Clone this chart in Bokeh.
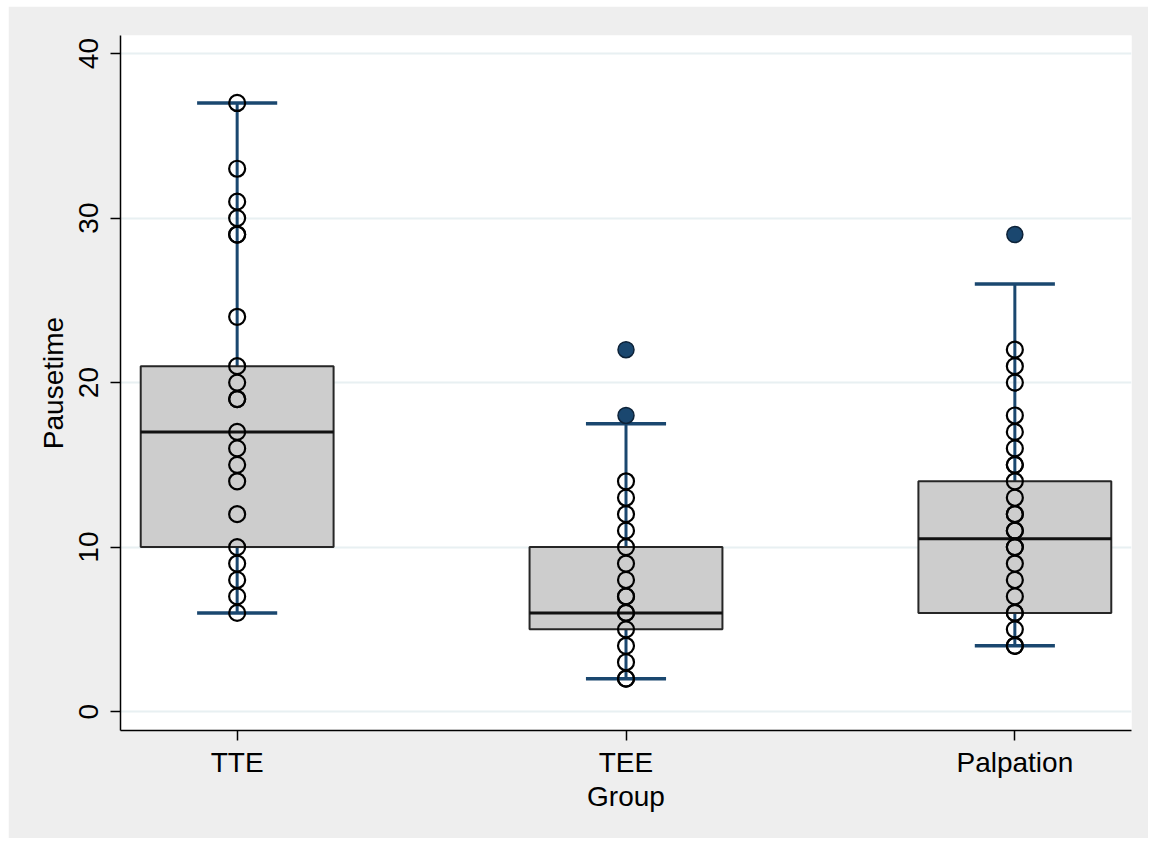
from bokeh.plotting import figure
from bokeh.models import ColumnDataSource, FixedTicker, Range1d, Spacer
from bokeh.layouts import column, row
from bokeh.embed import file_html
from bokeh.resources import INLINE

groups = ["TTE", "TEE", "Palpation"]
q1 = [10, 5, 6]
median = [17, 6, 10.5]
q3 = [21, 10, 14]
whisker_low = [6, 2, 4]
whisker_high = [37, 17.5, 26]

tte_values = [37, 33, 31, 30, 29, 29, 24, 21, 20, 19, 19, 17, 16, 15, 14, 12, 10, 9, 8, 7, 6]
tee_values = [14, 13, 12, 11, 10, 9, 8, 7, 7, 6, 6, 5, 4, 3, 2, 2]
palp_values = [22, 21, 20, 18, 17, 16, 15, 15, 14, 13, 12, 12, 11, 11, 10, 10, 9, 8, 7, 6, 6, 5, 4, 4]
outlier_group = ["TEE", "TEE", "Palpation"]
outlier_values = [22, 18, 29]

y_ticks = [0, 10, 20, 30, 40]

FONT = "Liberation Sans"
NAVY = "#1a476f"

pos = {g: i for i, g in enumerate(groups)}

p = figure(width=1140, height=832, output_backend="svg", toolbar_location=None,
           x_range=Range1d(-0.30, 2.30), y_range=Range1d(-1.15, 41.1),
           min_border_left=112, min_border_right=17, min_border_top=29, min_border_bottom=108)
p.background_fill_color = "white"
p.border_fill_color = "#eeeeee"
p.outline_line_color = None

box_src = ColumnDataSource(dict(
    x=[pos[g] for g in groups], q1=q1, q3=q3, med=median,
    lo=whisker_low, hi=whisker_high,
    cl=[pos[g] - 0.103 for g in groups], cr=[pos[g] + 0.103 for g in groups],
    bl=[pos[g] - 0.248 for g in groups], br=[pos[g] + 0.248 for g in groups],
))

# whiskers
p.segment(x0="x", y0="q3", x1="x", y1="hi", source=box_src, line_color=NAVY, line_width=3)
p.segment(x0="x", y0="lo", x1="x", y1="q1", source=box_src, line_color=NAVY, line_width=3)
p.segment(x0="cl", y0="hi", x1="cr", y1="hi", source=box_src, line_color=NAVY, line_width=3.5)
p.segment(x0="cl", y0="lo", x1="cr", y1="lo", source=box_src, line_color=NAVY, line_width=3.5)
# boxes
p.vbar(x="x", width=0.496, bottom="q1", top="q3", source=box_src,
       fill_color="#cdcdcd", line_color="#262626", line_width=2)
p.segment(x0="bl", y0="med", x1="br", y1="med", source=box_src, line_color="#111111", line_width=3)

# points
px, py = [], []
for g, vals in zip(groups, [tte_values, tee_values, palp_values]):
    px += [pos[g]] * len(vals)
    py += vals
p.scatter(px, py, marker="circle", size=16, fill_color=None, line_color="black", line_width=2.2)
p.scatter([pos[g] for g in outlier_group], outlier_values, marker="circle", size=16,
          fill_color=NAVY, line_color="#0d2238", line_width=1.5)

# axes
p.xaxis.ticker = FixedTicker(ticks=[pos[g] for g in groups])
p.xaxis.major_label_overrides = {pos[g]: g for g in groups}
p.yaxis.ticker = FixedTicker(ticks=y_ticks)
p.xaxis.axis_label = "Group"
p.yaxis.axis_label = "Pausetime"
for ax in (p.xaxis[0], p.yaxis[0]):
    ax.axis_line_color = "black"
    ax.axis_line_width = 1.5
    ax.major_tick_line_color = "black"
    ax.major_tick_line_width = 1.5
    ax.major_tick_out = 10
    ax.major_tick_in = 0
    ax.minor_tick_line_color = None
    ax.major_label_text_font = FONT
    ax.major_label_text_font_size = "28px"
    ax.major_label_text_color = "black"
    ax.axis_label_text_font = FONT
    ax.axis_label_text_font_size = "28px"
    ax.axis_label_text_font_style = "normal"
    ax.axis_label_text_color = "black"
p.yaxis.major_label_orientation = "vertical"
p.xaxis.major_label_standoff = 6
p.yaxis.major_label_standoff = 12
p.xaxis.axis_label_standoff = 0
p.yaxis.axis_label_standoff = 8

p.xgrid.grid_line_color = None
p.ygrid.ticker = FixedTicker(ticks=y_ticks)
p.ygrid.grid_line_color = "#e8f0f2"
p.ygrid.grid_line_width = 2

page = column(Spacer(height=6), row(Spacer(width=8), p))
open("out.html", "w").write(file_html(page, INLINE))
